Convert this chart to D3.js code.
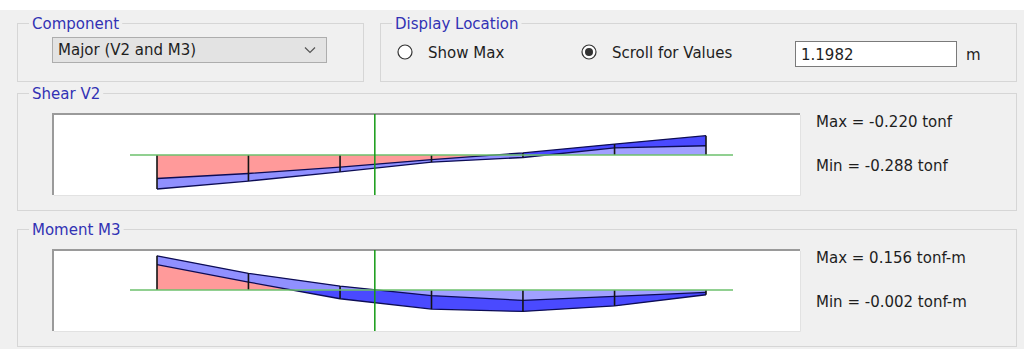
<!DOCTYPE html>
<html>
<head>
    <meta charset="utf-8">
    <title>Member forces - V2 / M3</title>

    <style>
        body {
            margin: 0;
            background: #ffffff;
        }

        svg text {
            font-family: "DejaVu Sans", sans-serif;
            font-size: 15px;
        }

        .title { fill: #3232b4; }
        .label { fill: #1e1e1e; }

        .groupbox {
            fill: none;
            stroke: #d6d6d6;
            stroke-width: 1px;
        }

        .curve {
            fill: none;
            stroke: #0c0c55;
            stroke-width: 1.3px;
        }

        .station {
            stroke: #141414;
            stroke-width: 1.6px;
        }

        .base {
            stroke: #6cc06c;
            stroke-width: 1.5px;
        }

        .loc {
            stroke: #149a14;
            stroke-width: 1.5px;
        }
    </style>
    <script src="https://d3js.org/d3.v7.min.js"></script>
</head>

<body>
<script>
// output stations along the member, m
var stations = [0, 0.503, 1.007, 1.51, 2.013, 2.517, 3.02];
var scrollLocation = 1.1982;

// shear V2 envelope, tonf
var shearMax = [-0.56, -0.44, -0.29, -0.11, 0.05, 0.26, 0.46];
var shearMin = [-0.81, -0.62, -0.40, -0.17, -0.06, 0.17, 0.22];

// moment M3 envelope, tonf-m
var momentMax = [-0.32, -0.10, 0.11, 0.24, 0.27, 0.20, 0.06];
var momentMin = [-0.43, -0.21, -0.05, 0.07, 0.13, 0.08, 0.03];

// texts
var shearLabels = ["Max = -0.220 tonf", "Min = -0.288 tonf"];
var momentLabels = ["Max = 0.156 tonf-m", "Min = -0.002 tonf-m"];
var componentValue = "Major (V2 and M3)";
var locationOptions = ["Show Max", "Scroll for Values"];
var locationValue = "1.1982";
var locationUnit = "m";

// colours of the envelope parts
var colRed = "#ff9a9a";        // both curves, negative side
var colNegBand = "#9090ff";    // min curve only, negative side
var colPosBand = "#4a4aff";    // max curve only, positive side
var colLight = "#a0a0ff";      // both curves, positive side

var width = 1024, height = 349;

var svg = d3.select("body").append("svg")
    .attr("width", width)
    .attr("height", height);

// dialog background
svg.append("rect")
    .attr("x", 0).attr("y", 10)
    .attr("width", width).attr("height", height - 10)
    .attr("fill", "#f0f0f0");

// group box with a title sitting on the top line
function groupBox(x, y, w, h, title) {
    svg.append("rect")
        .attr("class", "groupbox")
        .attr("x", x + 0.5).attr("y", y + 0.5)
        .attr("width", w).attr("height", h);
    var bg = svg.append("rect").attr("fill", "#f0f0f0");
    var t = svg.append("text")
        .attr("class", "title")
        .attr("x", x + 15)
        .attr("y", y + 6)
        .text(title);
    var bb = t.node().getBBox();
    bg.attr("x", bb.x - 3).attr("y", y - 2)
      .attr("width", bb.width + 6).attr("height", 5);
}

// top row
groupBox(17, 23, 346, 58, "Component");
groupBox(380, 23, 636, 58, "Display Location");

// combo box
svg.append("rect")
    .attr("x", 52.5).attr("y", 37.5)
    .attr("width", 274).attr("height", 25)
    .attr("fill", "#e3e3e3")
    .attr("stroke", "#adadad");
svg.append("text")
    .attr("class", "label")
    .attr("x", 58).attr("y", 55)
    .text(componentValue);
svg.append("path")
    .attr("d", "M305,47.5 L310,52.5 L315,47.5")
    .attr("fill", "none")
    .attr("stroke", "#555")
    .attr("stroke-width", 1.2);

// radio buttons
var radioX = [405, 589];
locationOptions.forEach(function(d, i) {
    svg.append("circle")
        .attr("cx", radioX[i]).attr("cy", 52)
        .attr("r", 7)
        .attr("fill", "#ffffff")
        .attr("stroke", "#333333")
        .attr("stroke-width", 1.2);
    if (i == 1) {
        svg.append("circle")
            .attr("cx", radioX[i]).attr("cy", 52)
            .attr("r", 4)
            .attr("fill", "#333333");
    }
    svg.append("text")
        .attr("class", "label")
        .attr("x", radioX[i] + 23).attr("y", 57.5)
        .text(d);
});

// location edit box
svg.append("rect")
    .attr("x", 795.5).attr("y", 41.5)
    .attr("width", 161).attr("height", 25)
    .attr("fill", "#ffffff")
    .attr("stroke", "#7a7a7a");
svg.append("text")
    .attr("class", "label")
    .attr("x", 801).attr("y", 59.5)
    .text(locationValue);
svg.append("text")
    .attr("class", "label")
    .attr("x", 966).attr("y", 59.5)
    .text(locationUnit);

// x scale is shared by both diagrams
var x = d3.scaleLinear()
    .domain([0, stations[stations.length - 1]])
    .range([157, 706]);

// one force diagram: box, frame, envelope and the value labels
function diagram(id, boxTop, frameTop, frameBottom, base, perUnit, maxV, minV, title, labels) {
    groupBox(17, boxTop, 999, frameBottom - boxTop + 15, title);

    // sunken frame
    svg.append("rect")
        .attr("x", 52).attr("y", frameTop)
        .attr("width", 748).attr("height", frameBottom - frameTop)
        .attr("fill", "#ffffff");
    svg.append("path")
        .attr("d", "M53," + frameBottom + " V" + (frameTop + 1) + " H800")
        .attr("fill", "none")
        .attr("stroke", "#9a9a9a")
        .attr("stroke-width", 2);
    svg.append("path")
        .attr("d", "M54," + (frameBottom + 0.5) + " H800.5 V" + (frameTop + 2))
        .attr("fill", "none")
        .attr("stroke", "#e2e2e2")
        .attr("stroke-width", 1);

    // positive values up for shear, down for moment
    var y = d3.scaleLinear()
        .domain([0, 1])
        .range([base, base - perUnit]);

    var posUp = perUnit > 0;

    // clip regions on each side of the base line
    var defs = svg.append("defs");
    defs.append("clipPath").attr("id", id + "-pos")
        .append("rect")
        .attr("x", 0).attr("width", width)
        .attr("y", posUp ? frameTop : base)
        .attr("height", posUp ? base - frameTop : frameBottom - base);
    defs.append("clipPath").attr("id", id + "-neg")
        .append("rect")
        .attr("x", 0).attr("width", width)
        .attr("y", posUp ? base : frameTop)
        .attr("height", posUp ? frameBottom - base : base - frameTop);

    var area = d3.area()
        .x(function(d, i) { return x(stations[i]); })
        .y0(base)
        .y1(function(d) { return y(d); });

    var line = d3.line()
        .x(function(d, i) { return x(stations[i]); })
        .y(function(d) { return y(d); });

    var neg = svg.append("g").attr("clip-path", "url(#" + id + "-neg)");
    neg.append("path").datum(minV).attr("d", area).attr("fill", colNegBand);
    neg.append("path").datum(maxV).attr("d", area).attr("fill", colRed);

    var pos = svg.append("g").attr("clip-path", "url(#" + id + "-pos)");
    pos.append("path").datum(maxV).attr("d", area).attr("fill", colPosBand);
    pos.append("path").datum(minV).attr("d", area).attr("fill", colLight);

    // envelope outlines
    svg.append("path").datum(maxV).attr("class", "curve").attr("d", line);
    svg.append("path").datum(minV).attr("class", "curve").attr("d", line);

    // station marks
    svg.selectAll(".st-" + id)
        .data(stations)
        .enter().append("line")
        .attr("class", "station st-" + id)
        .attr("x1", function(d) { return x(d); })
        .attr("x2", function(d) { return x(d); })
        .attr("y1", function(d, i) { return y(Math.min(0, minV[i])); })
        .attr("y2", function(d, i) { return y(Math.max(0, maxV[i])); });

    // base line
    svg.append("line")
        .attr("class", "base")
        .attr("x1", x(0) - 27).attr("x2", x(stations[stations.length - 1]) + 27)
        .attr("y1", y(0)).attr("y2", y(0));

    // scroll location
    svg.append("line")
        .attr("class", "loc")
        .attr("x1", x(scrollLocation)).attr("x2", x(scrollLocation))
        .attr("y1", frameTop + 1).attr("y2", frameBottom);

    // values at the location
    svg.selectAll(".lbl-" + id)
        .data(labels)
        .enter().append("text")
        .attr("class", "label lbl-" + id)
        .attr("x", 816)
        .attr("y", function(d, i) { return frameTop + 14 + i * 43.5; })
        .text(function(d) { return d; });
}

diagram("v2", 93, 113, 195, 155, 42, shearMax, shearMin, "Shear V2", shearLabels);
diagram("m3", 229, 249, 331, 290, -79.5, momentMax, momentMin, "Moment M3", momentLabels);
</script>
</body>
</html>
